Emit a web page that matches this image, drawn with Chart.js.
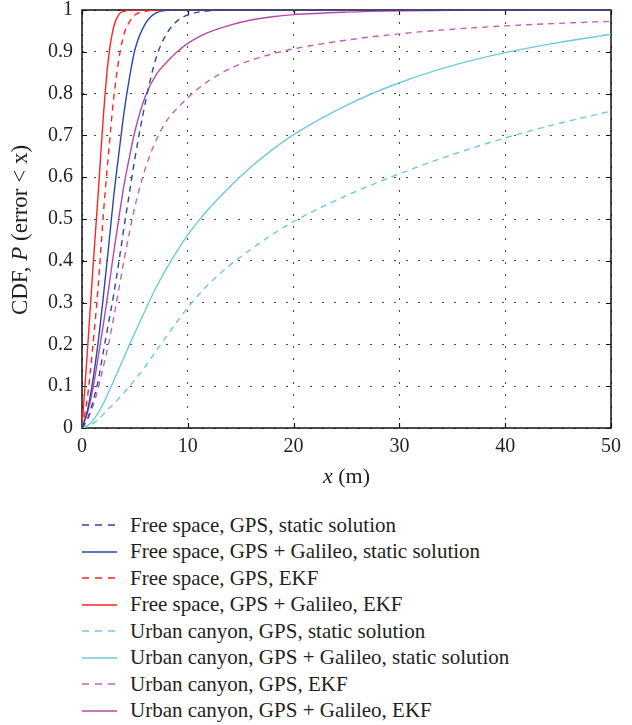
<!DOCTYPE html>
<html>
<head>
<meta charset="utf-8">
<script src="https://cdn.jsdelivr.net/npm/chart.js@4.4.0/dist/chart.umd.min.js"></script>
<style>
  html, body { margin: 0; padding: 0; background: #fff; }
  #wrap { position: relative; width: 632px; height: 725px; overflow: hidden; }
  #chartBox { position: absolute; left: 0; top: 0; width: 632px; height: 500px; }
  #legend { position: absolute; left: 82px; top: 512px; font-family: "Liberation Serif", "DejaVu Serif", serif; font-size: 21px; color: #231f20; }
  .row { height: 26.5px; display: flex; align-items: center; white-space: nowrap; }
  .row svg { width: 35px; height: 4px; margin-right: 13px; flex: none; }
</style>
</head>
<body>
<div id="wrap">
  <div id="chartBox"><canvas id="c"></canvas></div>
  <div id="legend"></div>
</div>
<script>
// ---- data ----
const xValues = [0, 0.5, 1, 1.5, 2, 2.5, 3, 3.5, 4, 4.5, 5, 6, 7, 8, 9, 10, 11, 12, 14, 16, 18, 20, 25, 30, 35, 40, 45, 50];

const freeGpsStatic    = [0, 0.02, 0.06, 0.11, 0.18, 0.25, 0.32, 0.40, 0.485, 0.565, 0.645, 0.78, 0.885, 0.943, 0.974, 0.988, 0.995, 0.998, 1, 1, 1, 1, 1, 1, 1, 1, 1, 1];
const freeGalStatic    = [0, 0.04, 0.11, 0.20, 0.31, 0.43, 0.555, 0.66, 0.76, 0.84, 0.905, 0.968, 0.993, 0.999, 1, 1, 1, 1, 1, 1, 1, 1, 1, 1, 1, 1, 1, 1];
const freeGpsEkf       = [0, 0.07, 0.19, 0.33, 0.505, 0.655, 0.79, 0.885, 0.945, 0.972, 0.988, 0.997, 1, 1, 1, 1, 1, 1, 1, 1, 1, 1, 1, 1, 1, 1, 1, 1];
const freeGalEkf       = [0, 0.18, 0.37, 0.55, 0.74, 0.885, 0.96, 0.99, 0.997, 1, 1, 1, 1, 1, 1, 1, 1, 1, 1, 1, 1, 1, 1, 1, 1, 1, 1, 1];
const urbanGpsStatic   = [0, 0.003, 0.01, 0.02, 0.032, 0.046, 0.058, 0.071, 0.085, 0.1, 0.115, 0.148, 0.184, 0.22, 0.255, 0.288, 0.318, 0.345, 0.39, 0.428, 0.463, 0.494, 0.556, 0.608, 0.654, 0.694, 0.728, 0.758];
const urbanGalStatic   = [0, 0.005, 0.017, 0.035, 0.058, 0.085, 0.113, 0.142, 0.171, 0.2, 0.228, 0.283, 0.336, 0.382, 0.424, 0.462, 0.495, 0.525, 0.578, 0.625, 0.666, 0.702, 0.772, 0.826, 0.867, 0.898, 0.922, 0.942];
const urbanGpsEkf      = [0, 0.02, 0.05, 0.092, 0.145, 0.2, 0.265, 0.335, 0.405, 0.47, 0.53, 0.622, 0.688, 0.735, 0.765, 0.79, 0.812, 0.831, 0.86, 0.88, 0.895, 0.907, 0.928, 0.943, 0.954, 0.962, 0.968, 0.973];
const urbanGalEkf      = [0, 0.035, 0.09, 0.165, 0.245, 0.33, 0.42, 0.505, 0.585, 0.65, 0.71, 0.795, 0.845, 0.875, 0.9, 0.92, 0.935, 0.947, 0.964, 0.976, 0.984, 0.989, 0.995, 0.998, 0.999, 1, 1, 1];

const seriesLabels = [
  "Free space, GPS, static solution",
  "Free space, GPS + Galileo, static solution",
  "Free space, GPS, EKF",
  "Free space, GPS + Galileo, EKF",
  "Urban canyon, GPS, static solution",
  "Urban canyon, GPS + Galileo, static solution",
  "Urban canyon, GPS, EKF",
  "Urban canyon, GPS + Galileo, EKF"
];
const seriesValues = [freeGpsStatic, freeGalStatic, freeGpsEkf, freeGalEkf, urbanGpsStatic, urbanGalStatic, urbanGpsEkf, urbanGalEkf];
const xTickValues = [0, 10, 20, 30, 40, 50];
const yTickValues = [0, 0.1, 0.2, 0.3, 0.4, 0.5, 0.6, 0.7, 0.8, 0.9, 1];

// ---- styles ----
const seriesColors = ["#2c46a8", "#2c46a8", "#ff2424", "#ff2424", "#6ccbd9", "#6ccbd9", "#c461b6", "#b34aa8"];
const seriesDashed = [true, false, true, false, true, false, true, false];
const DASH = [6, 5];
const FONT = '"Liberation Serif", "DejaVu Serif", serif';
const TEXT = '#231f20';

const datasets = seriesValues.map((vals, i) => ({
  label: seriesLabels[i],
  data: vals.map((v, j) => ({ x: xValues[j], y: v })),
  borderColor: seriesColors[i],
  borderWidth: 1.4,
  borderDash: seriesDashed[i] ? DASH : [],
  pointRadius: 0,
  fill: false,
  cubicInterpolationMode: 'monotone'
}));

const framePlugin = {
  id: 'frame',
  beforeDatasetsDraw(chart) {
    const { ctx, chartArea: a, scales: { x, y } } = chart;
    ctx.save();
    ctx.strokeStyle = '#111';
    ctx.lineWidth = 1.5;
    ctx.strokeRect(a.left, a.top, a.right - a.left, a.bottom - a.top);
    ctx.lineWidth = 1.2;
    ctx.beginPath();
    xTickValues.forEach(v => {
      const px = Math.round(x.getPixelForValue(v)) + 0.5;
      ctx.moveTo(px, a.bottom); ctx.lineTo(px, a.bottom - 5);
      ctx.moveTo(px, a.top); ctx.lineTo(px, a.top + 5);
    });
    yTickValues.forEach(v => {
      const py = Math.round(y.getPixelForValue(v)) + 0.5;
      ctx.moveTo(a.left, py); ctx.lineTo(a.left + 5, py);
      ctx.moveTo(a.right, py); ctx.lineTo(a.right - 5, py);
    });
    ctx.stroke();
    ctx.restore();
  },
  afterDraw(chart) {
    const { ctx, chartArea: a } = chart;
    const drawSegs = (segs, size) => {
      let total = 0;
      segs.forEach(s => { ctx.font = s[1] + ' ' + size + 'px ' + FONT; s.w = ctx.measureText(s[0]).width; total += s.w; });
      let pos = -total / 2;
      segs.forEach(s => { ctx.font = s[1] + ' ' + size + 'px ' + FONT; ctx.fillText(s[0], pos, 0); pos += s.w; });
    };
    ctx.save();
    ctx.fillStyle = TEXT;
    ctx.textBaseline = 'middle';
    ctx.textAlign = 'left';
    // x-axis title
    ctx.save();
    ctx.translate((a.left + a.right) / 2, 477);
    drawSegs([['x', 'italic'], [' (m)', 'normal']], 22);
    ctx.restore();
    // y-axis title
    ctx.save();
    ctx.translate(21, 230);
    ctx.rotate(-Math.PI / 2);
    drawSegs([['CDF, ', 'normal'], ['P', 'italic'], [' (error < x)', 'normal']], 23);
    ctx.restore();
    ctx.restore();
  }
};

new Chart(document.getElementById('c'), {
  type: 'line',
  data: { datasets },
  plugins: [framePlugin],
  options: {
    responsive: true,
    maintainAspectRatio: false,
    animation: false,
    events: [],
    layout: { padding: { top: 10, right: 21, left: 0, bottom: 0 } },
    plugins: { legend: { display: false }, tooltip: { enabled: false } },
    scales: {
      x: {
        type: 'linear', min: 0, max: 50,
        afterBuildTicks(scale) { scale.ticks = xTickValues.map(v => ({ value: v })); },
        afterFit(scale) { scale.height = 72; scale.paddingLeft = 0; scale.paddingRight = 0; },
        ticks: { color: TEXT, font: { family: FONT, size: 20 }, padding: 7, maxRotation: 0,
                 callback: v => String(v) },
        grid: { color: '#4a4a4a', lineWidth: 1, drawTicks: false },
        border: { display: false, dash: [2, 10] }
      },
      y: {
        type: 'linear', min: 0, max: 1,
        afterBuildTicks(scale) { scale.ticks = yTickValues.map(v => ({ value: v })); },
        afterFit(scale) { scale.width = 82; scale.paddingTop = 0; scale.paddingBottom = 0; },
        ticks: { color: TEXT, font: { family: FONT, size: 20 }, padding: 9,
                 callback: v => String(Math.round(v * 10) / 10) },
        grid: { color: '#4a4a4a', lineWidth: 1, drawTicks: false },
        border: { display: false, dash: [2, 10] }
      }
    }
  }
});

// HTML legend built from the series arrays
const legend = document.getElementById('legend');
seriesLabels.forEach((lab, i) => {
  const row = document.createElement('div');
  row.className = 'row';
  row.innerHTML = '<svg viewBox="0 0 35 4"><line x1="0" y1="2" x2="35" y2="2" stroke="' + seriesColors[i] +
    '" stroke-width="1.5"' + (seriesDashed[i] ? ' stroke-dasharray="7 6"' : '') + '/></svg><span></span>';
  row.querySelector('span').textContent = lab;
  legend.appendChild(row);
});
</script>
</body>
</html>
